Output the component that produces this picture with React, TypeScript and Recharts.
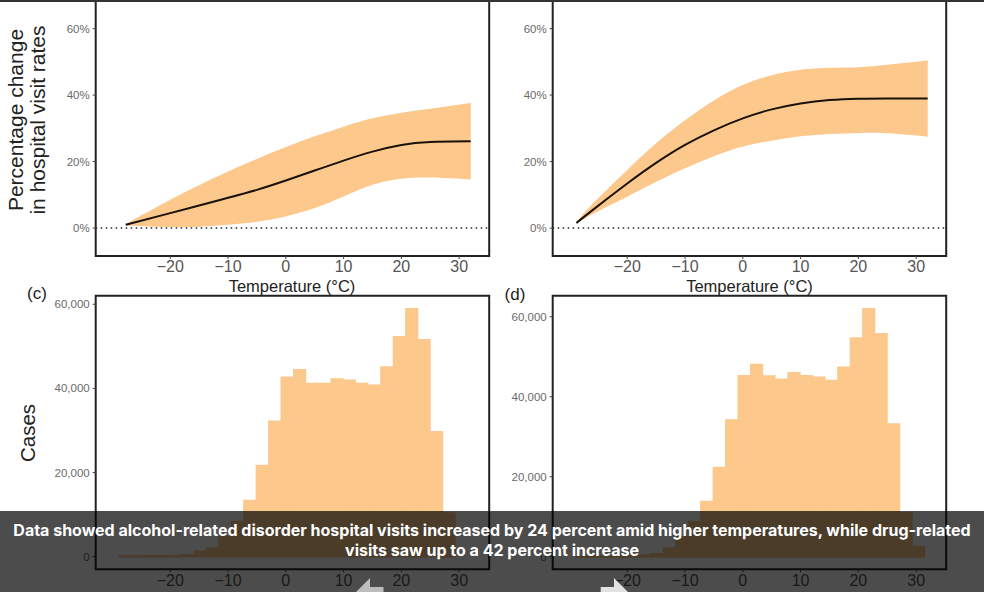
import React from "react";
import {
  ComposedChart, Area, Line, Bar, XAxis, YAxis, ReferenceLine, ReferenceArea,
} from "recharts";

const tempsA = [-27.7, -20, -15, -10, -5, 0, 5, 10, 15, 20, 25, 32];
const meanA = [1, 4.5, 6.8, 9.1, 11.5, 14.3, 17.3, 20.3, 23, 25, 25.9, 26.1];
const upperA = [1.2, 8.5, 12.9, 17, 20.8, 24.4, 27.6, 30.5, 33, 34.7, 35.9, 37.6];
const lowerA = [0.8, 0.3, 0.4, 1, 1.9, 3.5, 6, 9.5, 13, 14.8, 15.2, 14.6];

const tempsB = [-28.8, -26, -20, -15, -10, -5, 0, 5, 10, 15, 20, 25, 32];
const meanB = [1.5, 5.4, 13.4, 19.6, 25, 29.4, 33, 35.7, 37.5, 38.5, 38.9, 39, 39];
const upperB = [1.7, 7.3, 17.5, 25.5, 32.4, 38.4, 43, 46, 47.6, 48.2, 48.4, 49.1, 50.4];
const lowerB = [1.3, 4.2, 9.4, 13.9, 18, 21.6, 24.5, 26.3, 27.6, 28.3, 28.6, 28.5, 27.5];

const binCenters = [
  -27.88, -25.72, -23.56, -21.41, -19.25, -17.09, -14.94, -12.78, -10.62, -8.47, -6.31, -4.15, -2, 0.16,
  2.32, 4.47, 6.63, 8.79, 10.94, 13.1, 15.26, 17.41, 19.57, 21.73, 23.88, 26.04, 28.2, 30.35,
];
const casesC = [
  80, 100, 120, 150, 200, 400, 1200, 2000, 4700, 8300, 13300, 21600, 32100, 42600,
  44400, 41100, 41100, 42200, 41900, 41100, 40700, 45000, 52200, 58900, 51500, 29600, 10300, 0,
];
const casesD = [
  50, 60, 80, 100, 200, 300, 700, 2100, 5000, 8700, 13750, 22250, 34100, 45200,
  48000, 45100, 44300, 45900, 45200, 44800, 44000, 47300, 54600, 61900, 55700, 33100, 10900, 2500,
];

const xTicks = [-20, -10, 0, 10, 20, 30];
const pctTicks = [0, 20, 40, 60];
const caseTicks = [0, 20000, 40000, 60000];

const xTitle = "Temperature (°C)";
const captionLine1 = "Data showed alcohol-related disorder hospital visits increased by 24 percent amid higher temperatures, while drug-related";
const captionLine2 = "visits saw up to a 42 percent increase";

const ORANGE = "#fcc88c";
const FONT = "'Liberation Sans', Arial, sans-serif";
const X_DOMAIN: [number, number] = [-32.9, 35.2];

const curveRows = (t: number[], m: number[], u: number[], l: number[]) =>
  t.map((temp, i) => ({ temp, mean: m[i], band: [l[i], u[i]] }));
const histRows = (t: number[], c: number[]) => t.map((temp, i) => ({ temp, cases: c[i] }));

const xAxisEl = (height: number) => (
  <XAxis
    type="number"
    dataKey="temp"
    domain={X_DOMAIN}
    ticks={xTicks}
    allowDataOverflow
    height={height}
    axisLine={false}
    tickSize={3}
    tickLine={{ stroke: "#444" }}
    tick={{ fontSize: 16, fill: "#555", fontFamily: FONT }}
    tickFormatter={(v: number) => (v < 0 ? `−${-v}` : `${v}`)}
  />
);

function CurvePanel({ left, width, rows, axisW }: { left: number; width: number; rows: any[]; axisW: number }) {
  const yMax = 70.4;
  const yMin = -8.4;
  return (
    <div style={{ position: "absolute", left, top: -6 }}>
      <ComposedChart width={width} height={300} data={rows} margin={{ top: 0, right: width - axisW - 393.5, bottom: 0, left: 0 }}>
        {xAxisEl(38)}
        <YAxis
          type="number"
          domain={[yMin, yMax]}
          ticks={pctTicks}
          allowDataOverflow
          width={axisW}
          axisLine={false}
          tickSize={3}
          tickMargin={3}
          tickLine={{ stroke: "#444" }}
          tick={{ fontSize: 11.5, fill: "#6a6a6a", fontFamily: FONT }}
          tickFormatter={(v: number) => `${v}%`}
        />
        <Area dataKey="band" type="natural" fill={ORANGE} fillOpacity={1} stroke="none" isAnimationActive={false} dot={false} activeDot={false} />
        <ReferenceLine y={0} stroke="#222" strokeWidth={1.5} strokeDasharray="1.5 3.5" />
        <Line dataKey="mean" type="natural" stroke="#1a1208" strokeWidth={2} dot={false} activeDot={false} isAnimationActive={false} />
        <ReferenceArea x1={X_DOMAIN[0]} x2={X_DOMAIN[1]} y1={yMin} y2={yMax} fill="none" stroke="#222" strokeWidth={2} strokeOpacity={1} />
      </ComposedChart>
    </div>
  );
}

function HistPanel({ left, width, rows, axisW, yMax, yMin }: { left: number; width: number; rows: any[]; axisW: number; yMax: number; yMin: number }) {
  return (
    <div style={{ position: "absolute", left, top: 285 }}>
      <ComposedChart width={width} height={335} data={rows} margin={{ top: 10.7, right: width - axisW - 393.5, bottom: 0, left: 0 }} barCategoryGap={0} barGap={0}>
        {xAxisEl(50.7)}
        <YAxis
          type="number"
          domain={[yMin, yMax]}
          ticks={caseTicks}
          allowDataOverflow
          width={axisW}
          axisLine={false}
          tickSize={3}
          tickMargin={3}
          tickLine={{ stroke: "#444" }}
          tick={{ fontSize: 11.5, fill: "#6a6a6a", fontFamily: FONT }}
          tickFormatter={(v: number) => v.toLocaleString("en-US")}
        />
        <Bar dataKey="cases" fill={ORANGE} stroke={ORANGE} strokeWidth={2} barSize={12.5} isAnimationActive={false} />
        <ReferenceArea x1={X_DOMAIN[0]} x2={X_DOMAIN[1]} y1={yMin} y2={yMax} fill="none" stroke="#222" strokeWidth={2} strokeOpacity={1} />
      </ComposedChart>
    </div>
  );
}

const Rotated = ({ x, y, size, children }: { x: number; y: number; size: number; children: string }) => (
  <text x={x} y={y} fontSize={size} fontFamily={FONT} fill="#222" textAnchor="middle" transform={`rotate(-90 ${x} ${y})`}>
    {children}
  </text>
);

export default function App() {
  return (
    <div style={{ position: "absolute", left: 0, top: 0, width: 984, height: 592, overflow: "hidden", background: "#fff" }}>
      <CurvePanel left={0} width={500} axisW={95.7} rows={curveRows(tempsA, meanA, upperA, lowerA)} />
      <CurvePanel left={490} width={470} axisW={62.7} rows={curveRows(tempsB, meanB, upperB, lowerB)} />
      <HistPanel left={0} width={500} axisW={95.7} yMax={62040} yMin={-3020} rows={histRows(binCenters, casesC)} />
      <HistPanel left={490} width={470} axisW={62.7} yMax={65250} yMin={-3150} rows={histRows(binCenters, casesD)} />

      <svg width={984} height={592} style={{ position: "absolute", left: 0, top: 0, pointerEvents: "none" }}>
        <Rotated x={23} y={120} size={21}>Percentage change</Rotated>
        <Rotated x={45} y={120} size={21}>in hospital visit rates</Rotated>
        <Rotated x={35} y={433} size={20.5}>Cases</Rotated>
        <text x={292} y={292} fontSize={16.5} fontFamily={FONT} fill="#222" textAnchor="middle">{xTitle}</text>
        <text x={749.5} y={292} fontSize={16.5} fontFamily={FONT} fill="#222" textAnchor="middle">{xTitle}</text>
        <text x={37} y={299} fontSize={17} fontFamily={FONT} fill="#222" textAnchor="middle">(c)</text>
        <text x={515} y={300} fontSize={17} fontFamily={FONT} fill="#222" textAnchor="middle">(d)</text>
      </svg>

      <div style={{ position: "absolute", left: 0, top: 0, width: 984, height: 2, background: "#333" }} />

      <div style={{ position: "absolute", left: 0, top: 511, width: 984, height: 81, background: "rgba(0,0,0,0.7)" }} />
      <div
        style={{
          position: "absolute", left: 0, top: 520, width: 984, textAlign: "center", color: "#fff",
          fontFamily: "Inter, 'Open Sans', sans-serif", fontWeight: 700, fontSize: 16, lineHeight: "20px", whiteSpace: "nowrap",
        }}
      >
        <div>{captionLine1}</div>
        <div>{captionLine2}</div>
      </div>
      <svg width={984} height={592} style={{ position: "absolute", left: 0, top: 0, pointerEvents: "none" }}>
        <polygon points="356,592 370,578 370,587 383.5,587 383.5,592" fill="#bdbdbd" />
        <polygon points="600.7,592 600.7,587 614,587 614,578 628,592" fill="#e2e2e2" />
      </svg>
    </div>
  );
}
